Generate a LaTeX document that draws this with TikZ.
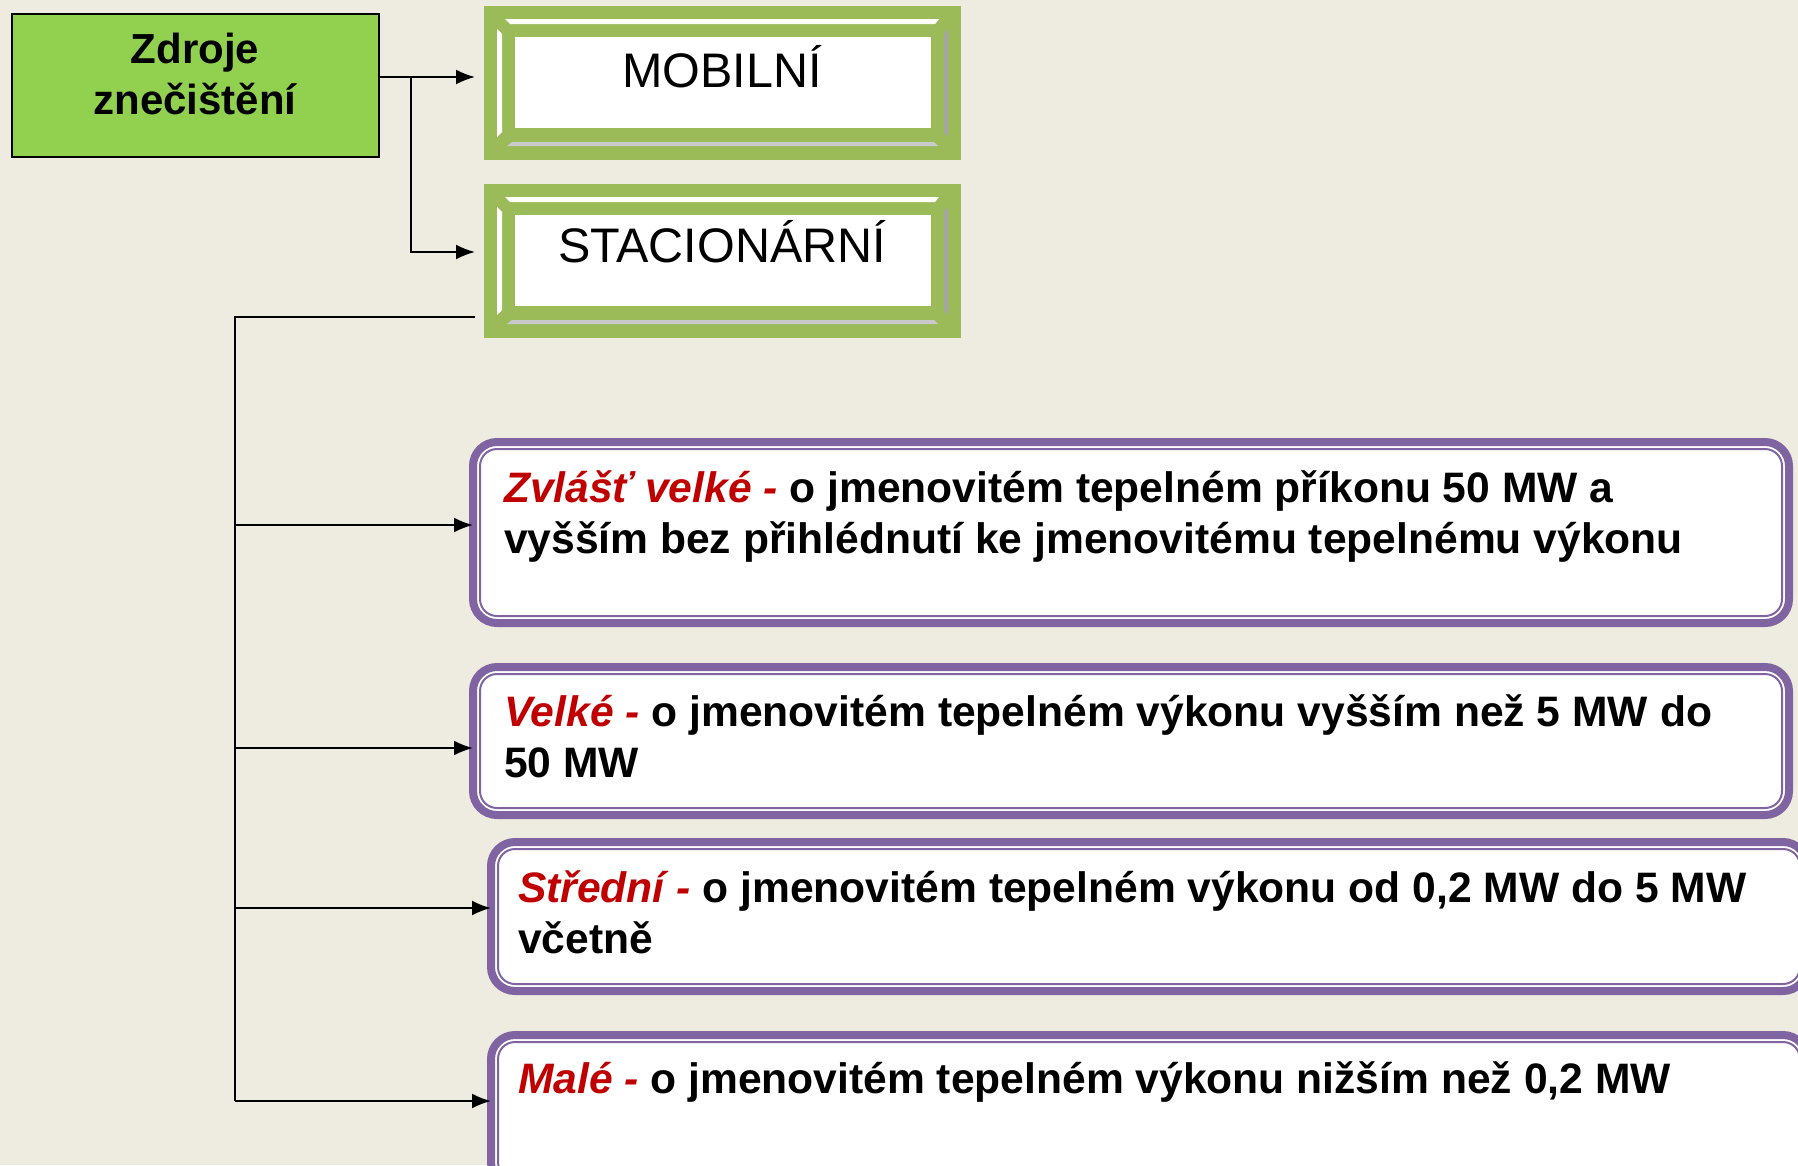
\documentclass[tikz,border=0pt]{standalone}
\usepackage{fontspec}
\setmainfont{Liberation Sans}
\usetikzlibrary{arrows.meta}

\definecolor{bgtan}{HTML}{EEECE1}
\definecolor{srcgreen}{HTML}{92D050}
\definecolor{framegreen}{HTML}{9BBB59}
\definecolor{catpurple}{HTML}{8064A2}
\definecolor{catred}{HTML}{C00000}
\definecolor{bevellight}{HTML}{CACACA}
\definecolor{beveldark}{HTML}{A5A5A5}

\tikzset{
  srcbox/.style={draw=black, line width=2pt, fill=srcgreen, minimum width=367pt, minimum height=143pt, inner sep=0pt},
  srctext/.style={font=\bfseries\fontsize{42}{51}\selectfont, align=center, inner sep=0pt},
  typebox/.style={fill=framegreen, minimum width=477pt, minimum height=154pt, inner sep=0pt, outer sep=0pt},
  bevel/.pic={
    \fill[white] (21,13) -- (455,13) -- (451,18) -- (26,18) -- cycle;
    \fill[white] (13,23) -- (18,28) -- (18,126) -- (13,131) -- cycle;
    \fill[bevellight] (28,136) -- (450,136) -- (454,140) -- (23,140) -- cycle;
    \fill[beveldark] (460,28) -- (464,23) -- (464,131) -- (460,126) -- cycle;
    \fill[white] (31,31) rectangle (447,122);
  },
  typetext/.style={font=\fontsize{48.5}{56}\selectfont, inner sep=0pt},
  catbox/.style={draw=catpurple, line width=8pt, fill=white, rounded corners=24pt, minimum width=1316pt, inner sep=0pt, outer sep=0pt,
    path picture={\draw[catpurple, line width=2pt, rounded corners=17pt]
      ([shift={(7pt,-7pt)}]path picture bounding box.north west) rectangle
      ([shift={(-7pt,7pt)}]path picture bounding box.south east);}},
  cattext/.style={font=\bfseries\fontsize{42.6}{50.5}\selectfont, align=left, inner sep=0pt}
}

\begin{document}
\begin{tikzpicture}[x=1pt, y=-1pt, >={Latex[length=19pt,width=15pt]}, line width=2pt]
  \useasboundingbox (0,0) rectangle (1798,1165);
  \fill[bgtan] (0,0) rectangle (1798,1165);
  \clip (0,0) rectangle (1798,1165);

  % source and the two kinds
  \node[srcbox] (src) at (195,85) {};
  \node[srctext, anchor=base] (srclabel) at (195,114) {Zdroje\\znečištění};
  \node[typebox] (mob) at (722.5,83) {};
  \pic at (mob.north west) {bevel};
  \node[typetext, anchor=base] (mobtext) at (722,87) {MOBILNÍ};
  \node[typebox] (stac) at (722.5,261) {};
  \pic at (stac.north west) {bevel};
  \node[typetext, anchor=base] (stactext) at (722,262) {STACIONÁRNÍ};

  % categories of stationary sources
  \node[catbox, minimum height=181pt] (zv) at (1131,532.5) {};
  \node[cattext, anchor=base west] (zvtext) at (503,553) {\textcolor{catred}{\itshape Zvlášť velké -} o jmenovitém tepelném příkonu 50 MW a\\vyšším bez přihlédnutí ke jmenovitému tepelnému výkonu};
  \node[catbox, minimum height=148pt] (vel) at (1131,741) {};
  \node[cattext, anchor=base west] (veltext) at (503,777) {\textcolor{catred}{\itshape Velké -} o jmenovitém tepelném výkonu vyšším než 5 MW do\\50 MW};
  \node[catbox, minimum height=149pt] (stred) at (1149,916.5) {};
  \node[cattext, anchor=base west] (stredtext) at (517,953) {\textcolor{catred}{\itshape Střední -} o jmenovitém tepelném výkonu od 0,2 MW do 5 MW\\včetně};
  \node[catbox, minimum height=151pt] (mal) at (1149,1110.5) {};
  \node[cattext, anchor=base west] (maltext) at (517,1093) {\textcolor{catred}{\itshape Malé -} o jmenovitém tepelném výkonu nižším než 0,2 MW};

  % connectors
  \coordinate (fork) at (411,77);
  \coordinate (stacin) at (411,252);
  \coordinate (bus) at (235,317);
  \coordinate (zvin) at (235,525);
  \coordinate (velin) at (235,748);
  \coordinate (stredin) at (235,908);
  \coordinate (malin) at (235,1101);
  \draw[->, shorten >=9pt] (src.east |- fork) -- (mob.west |- fork);
  \draw[->, shorten >=9pt] (fork) -- (stacin) -- (stacin -| stac.west);
  \draw[shorten <=9pt] (stac.west |- bus) -- (bus) -- (malin);
  \draw[->] (zvin) -- (zvin -| zv.west);
  \draw[->] (velin) -- (velin -| vel.west);
  \draw[->] (stredin) -- (stredin -| stred.west);
  \draw[->] (malin) -- (malin -| mal.west);
\end{tikzpicture}
\end{document}
